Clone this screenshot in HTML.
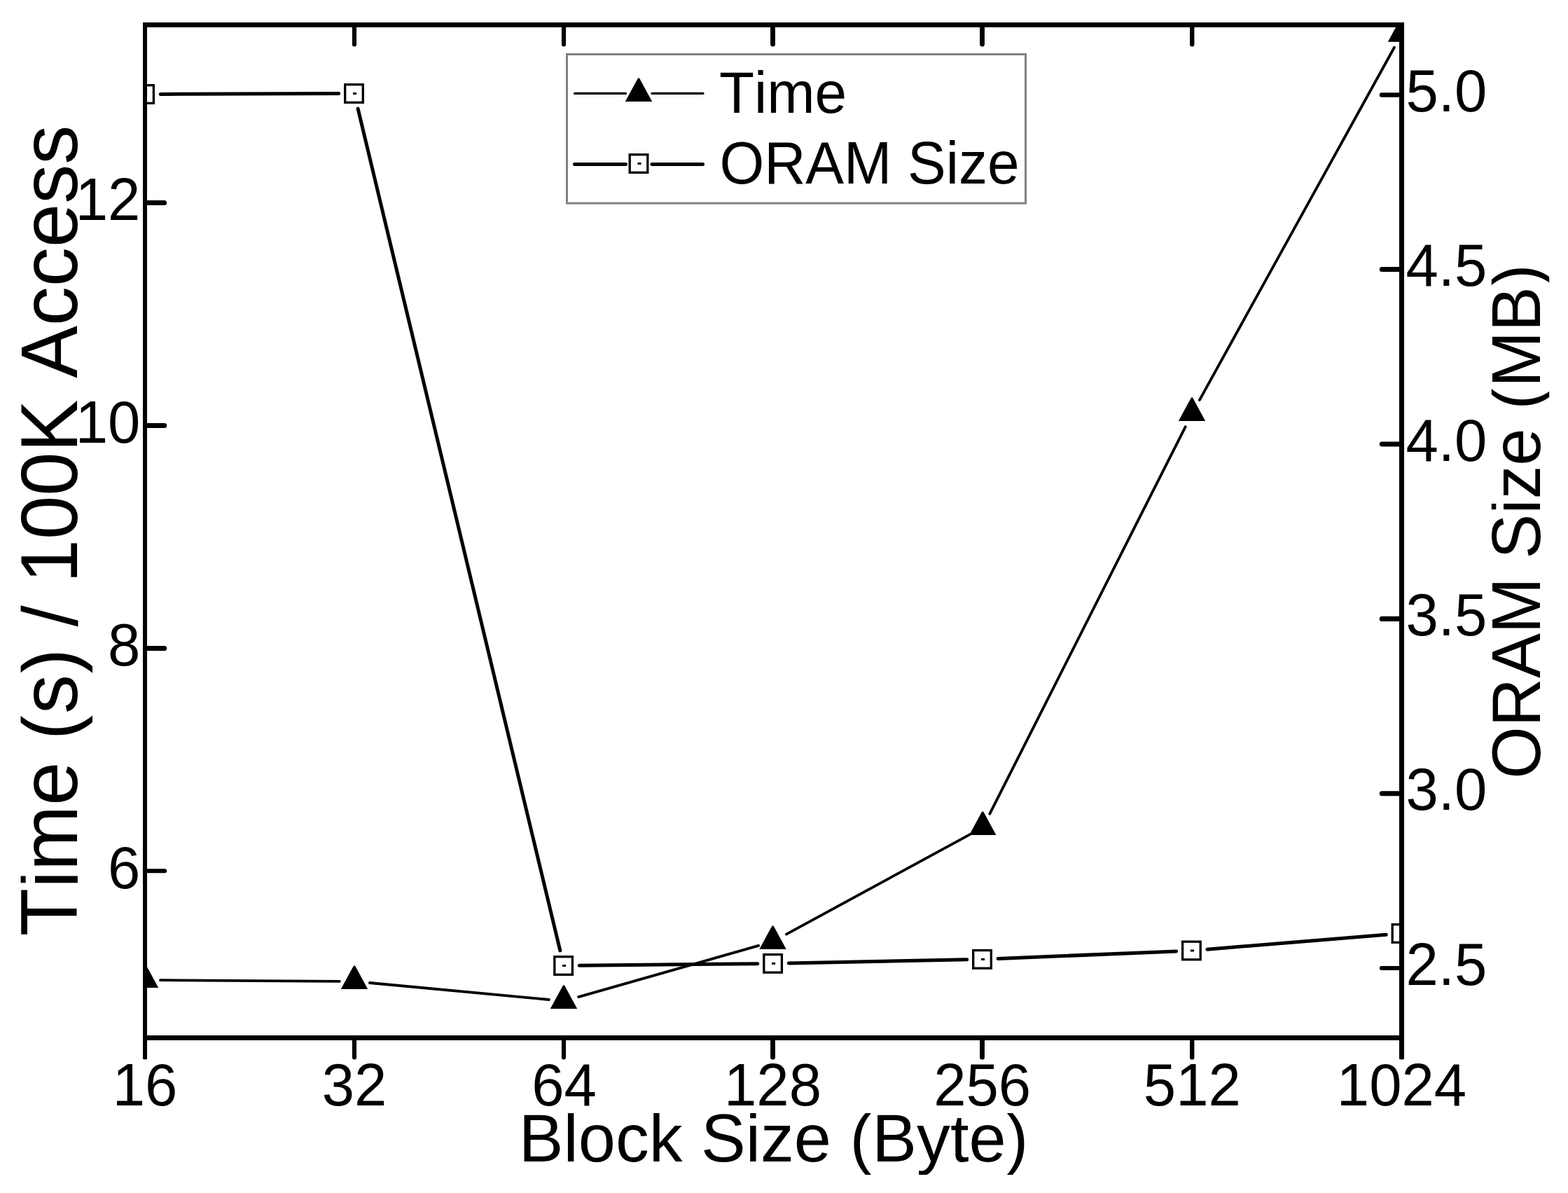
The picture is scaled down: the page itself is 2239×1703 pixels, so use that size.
<!DOCTYPE html>
<html lang="en">
<head>
<meta charset="utf-8">
<title>Time and ORAM Size vs Block Size</title>
<style>
html,body{margin:0;padding:0;background:#fff;}
body{width:2239px;height:1703px;overflow:hidden;}
svg{display:block;}
text{font-family:"Liberation Sans",Arial,Helvetica,sans-serif;fill:#000;font-kerning:none;}
.tk{font-size:83.3px;}
.lg{font-size:82px;}
.xt{font-size:95.6px;}
.yr{font-size:95.8px;}
.yl{font-size:112px;}
</style>
</head>
<body>
<svg width="2239" height="1703" viewBox="0 0 2239 1703">
<rect x="0" y="0" width="2239" height="1703" fill="#fff"/>
<defs><clipPath id="cr"><rect x="2129.8" y="0" width="82.4" height="1703"/></clipPath><clipPath id="cl"><rect x="29.6" y="0" width="102.4" height="1703"/></clipPath><clipPath id="cx"><rect x="0" y="1589" width="2239" height="88"/></clipPath><clipPath id="plot"><rect x="207" y="35.5" width="1794.5" height="1446"/></clipPath></defs>
<g clip-path="url(#plot)">
<g stroke="#000" stroke-width="5" stroke-linecap="round">
<line x1="229.2" y1="134.43" x2="483.7" y2="133.57"/>
<line x1="511.09" y1="155.09" x2="799.81" y2="1356.91"/>
<line x1="827.2" y1="1378.27" x2="1081.8" y2="1375.63"/>
<line x1="1126.2" y1="1374.95" x2="1380.7" y2="1369.85"/>
<line x1="1425.08" y1="1368.48" x2="1679.62" y2="1357.92"/>
<line x1="1723.93" y1="1355.19" x2="1979.27" y2="1334.31"/>
</g>
<g stroke="#000" stroke-width="3.8" stroke-linecap="round">
<line x1="229" y1="1399.14" x2="484.8" y2="1400.86"/>
<line x1="527.91" y1="1403.01" x2="783.89" y2="1426.99"/>
<line x1="826.17" y1="1423.08" x2="1083.13" y2="1349.92"/>
<line x1="1122.88" y1="1333.68" x2="1384.62" y2="1191.32"/>
<line x1="1413.35" y1="1161.72" x2="1692.65" y2="609.28"/>
<line x1="1712.85" y1="571.09" x2="1990.95" y2="67.71"/>
</g>
<g fill="#fff" stroke="#000" stroke-width="3.3"><rect x="193.8" y="121.7" width="25.6" height="25.6"/><rect x="205.1" y="133" width="5" height="3" fill="#000" stroke="none"/>
<rect x="492.7" y="120.7" width="25.6" height="25.6"/><rect x="504" y="132" width="5" height="3" fill="#000" stroke="none"/>
<rect x="791.8" y="1365.7" width="25.6" height="25.6"/><rect x="803.1" y="1377" width="5" height="3" fill="#000" stroke="none"/>
<rect x="1090.8" y="1362.6" width="25.6" height="25.6"/><rect x="1102.1" y="1373.9" width="5" height="3" fill="#000" stroke="none"/>
<rect x="1389.7" y="1356.6" width="25.6" height="25.6"/><rect x="1401" y="1367.9" width="5" height="3" fill="#000" stroke="none"/>
<rect x="1688.6" y="1344.2" width="25.6" height="25.6"/><rect x="1699.9" y="1355.5" width="5" height="3" fill="#000" stroke="none"/>
<rect x="1988.2" y="1319.7" width="25.6" height="25.6"/><rect x="1999.5" y="1331" width="5" height="3" fill="#000" stroke="none"/></g>
<g fill="#000"><polygon points="206,1376.5 208,1376.5 226.2,1410 187.8,1410"/>
<polygon points="505,1378.5 507,1378.5 525.2,1412 486.8,1412"/>
<polygon points="804,1406.5 806,1406.5 824.2,1440 785.8,1440"/>
<polygon points="1102.5,1321.5 1104.5,1321.5 1122.7,1355 1084.3,1355"/>
<polygon points="1402.2,1158.5 1404.2,1158.5 1422.4,1192 1384,1192"/>
<polygon points="1701,567.5 1703,567.5 1721.2,601 1682.8,601"/>
<polygon points="2000,26.3 2002,26.3 2020.2,59.8 1981.8,59.8"/></g>
</g>
<g fill="#000">
<rect x="204" y="32" width="6" height="1480"/>
<rect x="1998" y="32" width="7" height="1480"/>
<rect x="204" y="32" width="1801" height="7"/>
<rect x="204" y="1478" width="1801" height="7"/>
</g>
<g stroke="#000" stroke-linecap="round">
<line x1="506" y1="1483" x2="506" y2="1509.55" stroke-width="6.1"/>
<line x1="506" y1="37" x2="506" y2="63.45" stroke-width="6.1"/>
<line x1="805" y1="1483" x2="805" y2="1509.55" stroke-width="6.1"/>
<line x1="805" y1="37" x2="805" y2="63.45" stroke-width="6.1"/>
<line x1="1103.5" y1="1483" x2="1103.5" y2="1509.15" stroke-width="6.9"/>
<line x1="1103.5" y1="37" x2="1103.5" y2="63.05" stroke-width="6.9"/>
<line x1="1402.5" y1="1483" x2="1402.5" y2="1509.15" stroke-width="6.9"/>
<line x1="1402.5" y1="37" x2="1402.5" y2="63.05" stroke-width="6.9"/>
<line x1="1702.2" y1="1483" x2="1702.2" y2="1509.4" stroke-width="6.4"/>
<line x1="1702.2" y1="37" x2="1702.2" y2="63.3" stroke-width="6.4"/>
<line x1="207" y1="1500" x2="207" y2="1509.6" stroke-width="6"/>
<line x1="2001.5" y1="1500" x2="2001.5" y2="1509.2" stroke-width="6.8"/>
<line x1="208" y1="289.5" x2="234.65" y2="289.5" stroke-width="7.1"/>
<line x1="208" y1="607.5" x2="234.7" y2="607.5" stroke-width="7.0"/>
<line x1="208" y1="925.5" x2="234.7" y2="925.5" stroke-width="7.0"/>
<line x1="208" y1="1243.3" x2="235.2" y2="1243.3" stroke-width="6.0"/>
<line x1="2000" y1="135.5" x2="1973.1" y2="135.5" stroke-width="6.6"/>
<line x1="2000" y1="384.5" x2="1973.35" y2="384.5" stroke-width="7.1"/>
<line x1="2000" y1="634" x2="1973.25" y2="634" stroke-width="6.9"/>
<line x1="2000" y1="883.4" x2="1973.4" y2="883.4" stroke-width="7.2"/>
<line x1="2000" y1="1132.8" x2="1973.3" y2="1132.8" stroke-width="7.0"/>
<line x1="2000" y1="1382" x2="1972.8" y2="1382" stroke-width="6.0"/>
</g>
<g class="tk" text-anchor="middle">
<text transform="translate(207,1577.5) scale(1,1.02)">16</text>
<text transform="translate(506,1577.5) scale(1,1.02)">32</text>
<text transform="translate(805.5,1577.5) scale(1,1.02)">64</text>
<text transform="translate(1103.5,1577.5) scale(1,1.02)">128</text>
<text transform="translate(1402.6,1577.5) scale(1,1.02)">256</text>
<text transform="translate(1702.3,1577.5) scale(1,1.02)">512</text>
<text transform="translate(2001.5,1577.5) scale(1,1.02)">1024</text>
</g>
<g class="tk" text-anchor="end">
<text transform="translate(200.3,313.7) scale(1,1.02)">12</text>
<text transform="translate(200.3,631.7) scale(1,1.02)">10</text>
<text transform="translate(200.3,949.7) scale(1,1.02)">8</text>
<text transform="translate(200.3,1267.5) scale(1,1.02)">6</text>
</g>
<g class="tk" text-anchor="start">
<text transform="translate(2007.5,159) scale(1,1.02)">5.0</text>
<text transform="translate(2007.5,408) scale(1,1.02)">4.5</text>
<text transform="translate(2007.5,657.5) scale(1,1.02)">4.0</text>
<text transform="translate(2007.5,906.9) scale(1,1.02)">3.5</text>
<text transform="translate(2007.5,1156.3) scale(1,1.02)">3.0</text>
<text transform="translate(2007.5,1405.5) scale(1,1.02)">2.5</text>
</g>
<g clip-path="url(#cx)"><text class="xt" text-anchor="middle" transform="translate(1104.6,1657.8) scale(1,1.015)">Block Size (Byte)</text></g>
<g clip-path="url(#cl)"><text class="yl" text-anchor="middle" transform="translate(110,757.5) rotate(-90) scale(1,1.025)">Time (s) / 100K Access</text></g>
<g clip-path="url(#cr)"><text class="yr" text-anchor="middle" transform="translate(2199,744.5) rotate(-90) scale(1,1.035)">ORAM Size (MB)</text></g>
<rect x="809.5" y="77.5" width="655" height="212.6" fill="#fff" stroke="#808080" stroke-width="3"/>
<g stroke="#000" stroke-linecap="round">
<line x1="820.5" y1="133.4" x2="893.5" y2="133.4" stroke-width="3.1"/>
<line x1="931" y1="133.4" x2="1004" y2="133.4" stroke-width="3.1"/>
<line x1="820.5" y1="234.5" x2="893.5" y2="234.5" stroke-width="5"/>
<line x1="931" y1="234.5" x2="1003.5" y2="234.5" stroke-width="5"/>
</g>
<g fill="#000"><polygon points="911,111.5 913,111.5 931.2,145 892.8,145"/></g>
<g fill="#fff" stroke="#000" stroke-width="3.3"><rect x="899.2" y="220.7" width="25.6" height="25.6"/><rect x="910.5" y="232" width="5" height="3" fill="#000" stroke="none"/></g>
<text class="lg" transform="translate(1027,161.1) scale(1,1.025)">Time</text>
<text class="lg" transform="translate(1027.4,261.9) scale(1,1.03)">ORAM Size</text>
</svg>
</body>
</html>
